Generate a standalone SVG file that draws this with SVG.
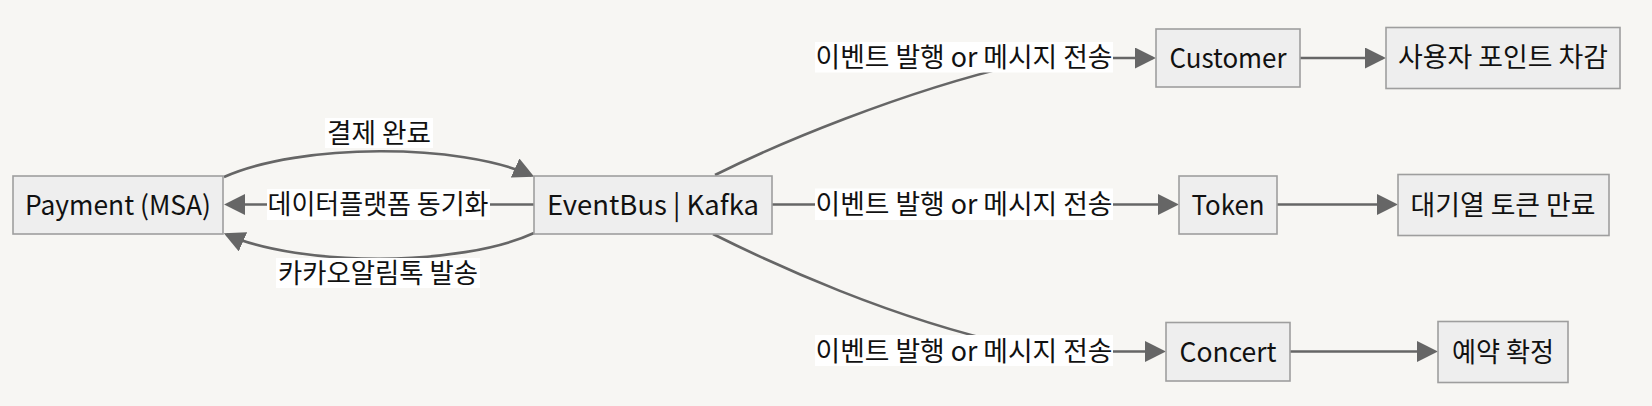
<svg xmlns="http://www.w3.org/2000/svg" width="1652" height="406" viewBox="0 0 1652 406">
<style>
.node rect{fill:#eeeeee;stroke:#9e9e9e;stroke-width:1.6}
text{font-family:"Noto Sans CJK KR","Noto Sans",sans-serif;fill:#111;text-anchor:middle}
.nl{font-size:27px}
.kl{font-size:27px}
.edge{fill:none;stroke:#666666;stroke-width:2.6}
.lbg{fill:#ffffff}
</style>
<defs>
<marker id="arr" viewBox="0 0 10 10" refX="8.6" refY="5" markerUnits="userSpaceOnUse" markerWidth="21" markerHeight="21" orient="auto">
<path d="M0,0 L10,5 L0,10 z" fill="#666666"/>
</marker>
</defs>
<rect x="0" y="0" width="1652" height="406" fill="#f7f6f3"/>
<g id="connectors">
<path class="edge" d="M224,177 C300,143 460,143 531.5,175.5" marker-end="url(#arr)"/>
<path class="edge" d="M534,204.5 L227,204.5" marker-end="url(#arr)"/>
<path class="edge" d="M534,233 C460,267 300,267 226.5,234.5" marker-end="url(#arr)"/>
<path class="edge" d="M715,175 C775,145 900,92 1020,64 L1100,58 L1153,58" marker-end="url(#arr)"/>
<path class="edge" d="M772,204.5 L1176,204.5" marker-end="url(#arr)"/>
<path class="edge" d="M713,234 C773,264 890,318 1012,345 L1100,351.5 L1163,351.5" marker-end="url(#arr)"/>
<path class="edge" d="M1300,58 L1383,58" marker-end="url(#arr)"/>
<path class="edge" d="M1277,204.5 L1395,204.5" marker-end="url(#arr)"/>
<path class="edge" d="M1290,351.5 L1435,351.5" marker-end="url(#arr)"/>
<g id="edge-labels">
<rect class="lbg" x="325" y="118" width="108" height="30"/>
<text class="kl" x="379" y="143" textLength="104" lengthAdjust="spacingAndGlyphs">결제 완료</text>
<rect class="lbg" x="267" y="189" width="223" height="31"/>
<text class="kl" x="378" y="214" textLength="221" lengthAdjust="spacingAndGlyphs">데이터플랫폼 동기화</text>
<rect class="lbg" x="276" y="258" width="204" height="30"/>
<text class="kl" x="378" y="282.5" textLength="200" lengthAdjust="spacingAndGlyphs">카카오알림톡 발송</text>
<rect class="lbg" x="815" y="42" width="298" height="30.5"/>
<text class="kl" x="964" y="67" textLength="297" lengthAdjust="spacingAndGlyphs">이벤트 발행 or 메시지 전송</text>
<rect class="lbg" x="815" y="188.5" width="298" height="31.5"/>
<text class="kl" x="964" y="214" textLength="297" lengthAdjust="spacingAndGlyphs">이벤트 발행 or 메시지 전송</text>
<rect class="lbg" x="815" y="335" width="298" height="31"/>
<text class="kl" x="964" y="360.5" textLength="297" lengthAdjust="spacingAndGlyphs">이벤트 발행 or 메시지 전송</text>
</g>
</g>
<g id="payment" class="node"><rect x="13" y="176" width="210" height="58"/><text class="nl" x="118" y="215" textLength="186" lengthAdjust="spacingAndGlyphs">Payment (MSA)</text></g>
<g id="eventbus" class="node"><rect x="534" y="176" width="238" height="58"/><text class="nl" x="653" y="215" textLength="212" lengthAdjust="spacingAndGlyphs">EventBus | Kafka</text></g>
<g id="customer" class="node"><rect x="1156" y="29" width="144" height="58"/><text class="nl" x="1228" y="68" textLength="117" lengthAdjust="spacingAndGlyphs">Customer</text></g>
<g id="point" class="node"><rect x="1386" y="27.5" width="234" height="61"/><text class="kl" x="1503" y="66.5" textLength="210" lengthAdjust="spacingAndGlyphs">사용자 포인트 차감</text></g>
<g id="token" class="node"><rect x="1179" y="176" width="98" height="58"/><text class="nl" x="1228" y="215" textLength="73" lengthAdjust="spacingAndGlyphs">Token</text></g>
<g id="queue" class="node"><rect x="1398" y="174.5" width="211" height="61"/><text class="kl" x="1503" y="214.5" textLength="185" lengthAdjust="spacingAndGlyphs">대기열 토큰 만료</text></g>
<g id="concert" class="node"><rect x="1166" y="322.5" width="124" height="58.5"/><text class="nl" x="1228" y="361.5" textLength="97" lengthAdjust="spacingAndGlyphs">Concert</text></g>
<g id="reserve" class="node"><rect x="1438" y="321.5" width="130" height="61"/><text class="kl" x="1503" y="361.5" textLength="102" lengthAdjust="spacingAndGlyphs">예약 확정</text></g>
</svg>
